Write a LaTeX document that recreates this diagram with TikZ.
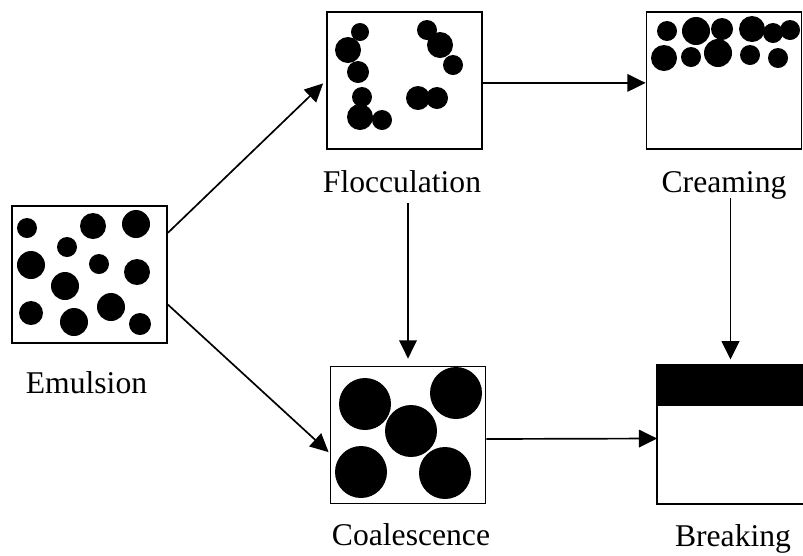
\documentclass[tikz,border=0pt]{standalone}
\usepackage{fontspec}
\setmainfont{Liberation Serif}
\usepackage{tikz}
\usetikzlibrary{arrows.meta,positioning}
\tikzset{
  stage/.style={draw,line width=1.2pt,inner sep=0pt,minimum width=3.875cm,minimum height=3.425cm},
  lbl/.style={font=\fontsize{22.5}{27}\selectfont,inner sep=1pt,anchor=base},
  drop/.style={fill=black},
}

\begin{document}
\begin{tikzpicture}[x=0.025cm,y=-0.025cm,line width=1.2pt,>={Triangle[length=13pt,width=12.5pt]}]
  \useasboundingbox (0,0) rectangle (803,555);
  % the five stages
  \node[stage] (emul) at (89.5,274.5) {};
  \node[stage] (flocc) at (404.5,80.5) {};
  \node[stage] (cream) at (724,80.5) {};
  \node[stage] (coal) at (408,435) {};
  \node[stage,draw=none,minimum width=3.625cm] (brk) at (730.5,434.5) {};
  \node[lbl] (emull) at (86.5,393) {Emulsion};
  \node[lbl] (floccl) at (402,192) {Flocculation};
  \node[lbl] (creaml) at (724,192) {Creaming};
  \node[lbl] (coall) at (411,545) {Coalescence};
  \node[lbl] (brkl) at (733,546) {Breaking};
  % emulsion droplets
  \foreach \x/\y/\r in {27/228/10,93/226/13,136/224/14,67/247/10,31/265/14,99/264/10,
      137/272/13,65/286/14,31/313/12,74/322/14,111/307/14,140/324/11}
    \fill[drop] (\x,\y) circle[radius=\r];
  % flocs
  \foreach \x/\y/\r in {360/32/9,348/50/13,358/72/11,427/30/10,440/45/13,453/65/10,
      362/97/10,360/117/13,382/120/10,418/98/12,437/98/11}
    \fill[drop] (\x,\y) circle[radius=\r];
  % cream layer
  \foreach \x/\y/\r in {667/31/10,696/31/14,722/29/11,752/29/13,773/33/10,790/30/10,
      664/58/13,691/57/10,718/53/14,750/55/10,778/58/10}
    \fill[drop] (\x,\y) circle[radius=\r];
  % coalesced drops
  \foreach \x/\y in {365/404,456/393,411/431,361/472,445/473}
    \fill[drop] (\x,\y) circle[radius=26];
  % broken emulsion: oil layer on top
  \fill[black] (brk.north west) rectangle ([yshift=-1.025cm]brk.north east);
  \draw (brk.north east) -- (brk.north west) -- (brk.south west) -- (brk.south east);
  % arrows
  \draw[->,shorten >=3pt] (emul.28) -- (flocc.west);
  \draw[->,shorten >=1pt] (emul.-21) -- (coal.193);
  \draw[->] ([yshift=-0.06cm]flocc.east) -- ([yshift=-0.06cm]cream.west);
  \draw[->,shorten >=5pt] ([yshift=-0.275cm]coal.north |- floccl.base) -- (coal.north);
  \draw[->,shorten >=4pt] ([yshift=-0.15cm]brk.north |- creaml.base) -- (brk.north);
  \draw[->] ([yshift=-0.1cm]coal.east) -- ([yshift=-0.1cm]brk.west);
\end{tikzpicture}
\end{document}
